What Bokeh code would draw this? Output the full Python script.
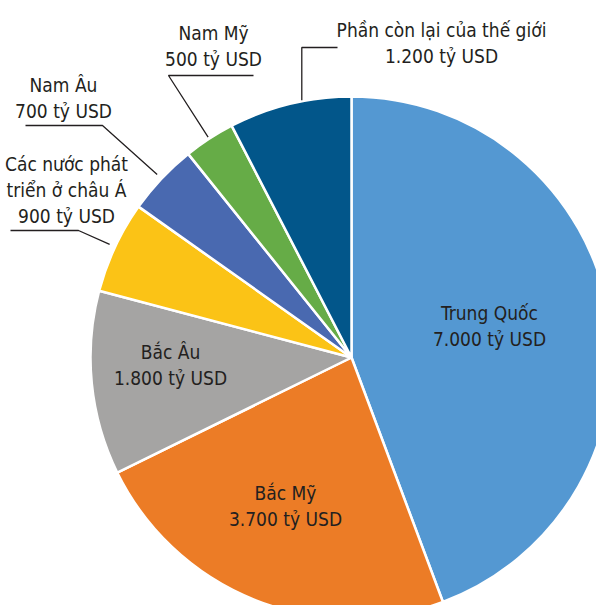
import numpy as np
from bokeh.plotting import figure
from bokeh.models import Range1d, ColumnDataSource
from bokeh.core.properties import value
from bokeh.embed import file_html
from bokeh.resources import INLINE

# ---- data ----
regions = ["Trung Quốc", "Bắc Mỹ", "Bắc Âu", "Các nước phát triển ở châu Á",
           "Nam Âu", "Nam Mỹ", "Phần còn lại của thế giới"]
values = [7000, 3700, 1800, 900, 700, 500, 1200]
value_labels = ["7.000 tỷ USD", "3.700 tỷ USD", "1.800 tỷ USD", "900 tỷ USD",
                "700 tỷ USD", "500 tỷ USD", "1.200 tỷ USD"]
name_lines = [["Trung Quốc"], ["Bắc Mỹ"], ["Bắc Âu"], ["Các nước phát", "triển ở châu Á"],
              ["Nam Âu"], ["Nam Mỹ"], ["Phần còn lại của thế giới"]]
colors = ["#5498D2", "#EC7C26", "#A5A4A3", "#FBC316", "#4969B0", "#66AC47", "#02568A"]

# ---- layout (image pixel coordinates) ----
W, H = 596, 605
CX, CY, R = 351, 357, 261
FONT = "DejaVu Sans Condensed"
FS = "19px"
LINE_H = 26
TEXT_COLOR = "#231F20"
# label centre of first line (x, y) per slice
label_pos = [(489, 312), (285, 492), (170, 351), (66, 163), (63, 84), (213, 32), (441, 29)]
# leader: None or (fraction along slice, radius, elbow list from label side)
leaders = [None, None, None,
           (0.5, 267, [(10, 230), (78, 230)]),
           (0.5, 267, [(25, 125), (102, 125)]),
           (0.5, 263, [(253, 75), (168, 75)]),
           (0.6, 262, [(337, 47), None])]

p = figure(width=W, height=H, x_range=Range1d(0, W), y_range=Range1d(-H, 0),
           output_backend="svg", toolbar_location=None, min_border=0)
p.axis.visible = False
p.grid.visible = False
p.outline_line_color = None
p.background_fill_color = "white"

tot = float(sum(values))
frac = np.array(values) / tot
cum = np.concatenate([[0], np.cumsum(frac)])
start = np.pi / 2 - 2 * np.pi * cum[:-1]
end = np.pi / 2 - 2 * np.pi * cum[1:]

src = ColumnDataSource(dict(start=start, end=end, color=colors))
p.wedge(x=CX, y=-CY, radius=R, start_angle="start", end_angle="end", direction="clock",
        fill_color="color", line_color="white", line_width=2.5, source=src)

# leaders
xs, ys = [], []
for i, ld in enumerate(leaders):
    if ld is None:
        continue
    f, rr, elbows = ld
    a = 2 * np.pi * (cum[i] + f * frac[i])  # clockwise from top
    ex = CX + rr * np.sin(a)
    ey = CY - rr * np.cos(a)
    pts = []
    for e in elbows:
        if e is None:
            e = (ex, elbows[0][1])
        pts.append(e)
    pts.append((ex, ey))
    xs.append([q[0] for q in pts])
    ys.append([-q[1] for q in pts])
p.multi_line(xs=xs, ys=ys, line_color="#231F20", line_width=1.3)

# labels
tx, ty, tt = [], [], []
for i in range(len(regions)):
    lx, ly = label_pos[i]
    lines = name_lines[i] + [value_labels[i]]
    for k, s in enumerate(lines):
        tx.append(lx)
        ty.append(-(ly + k * LINE_H))
        tt.append(s)
p.text(x=tx, y=ty, text=tt, text_font=value(FONT), text_font_size=FS,
       text_align="center", text_baseline="middle", text_color=TEXT_COLOR)

open("out.html", "w").write(file_html(p, INLINE))
